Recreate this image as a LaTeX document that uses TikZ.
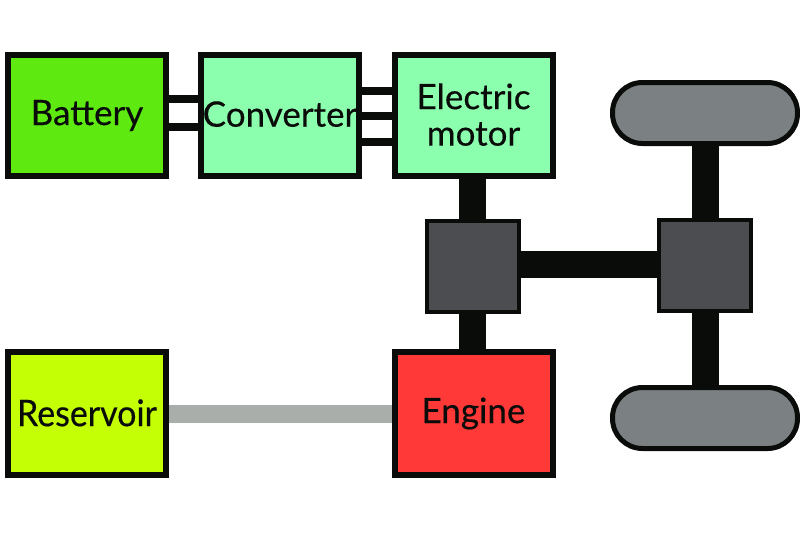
\documentclass[tikz,border=0pt]{standalone}
\usepackage{fontspec}
\setmainfont[FakeBold=0.4]{Lato}
\definecolor{ink}{HTML}{0A0C0A}
\definecolor{batt}{HTML}{5EEA10}
\definecolor{mint}{HTML}{8CFFAE}
\definecolor{res}{HTML}{C4FF05}
\definecolor{eng}{HTML}{FF3838}
\definecolor{gear}{HTML}{4B4D50}
\definecolor{whl}{HTML}{7B8082}
\definecolor{fuel}{HTML}{A9AEAB}
\tikzset{
  x=1pt,y=-1pt,
  unitbox/.style={draw=ink,line width=6pt,minimum width=158pt,minimum height=121pt,inner sep=0pt,text=ink,font=\fontsize{35}{36}\selectfont,align=center},
  gearbox/.style={draw=ink,fill=gear,line width=4pt,minimum width=92pt,minimum height=91pt,inner sep=0pt},
  wheelshape/.style={draw=ink,fill=whl,line width=5pt,minimum width=185pt,minimum height=61pt,rounded corners=30pt,inner sep=0pt},
  thin/.style={draw=ink,line width=8pt},
  shaft/.style={draw=ink,line width=27pt},
  fuelline/.style={draw=fuel,line width=18pt}
}
\begin{document}
\begin{tikzpicture}
\useasboundingbox (0,0) rectangle (800,533);
\node[unitbox,fill=batt] (bat) at (87,115.5) {\raisebox{1.5pt}{Battery}};
\node[unitbox,fill=mint] (conv) at (280,115.5) {\raisebox{3pt}{Converter}};
\node[unitbox,fill=mint] (mot) at (473.5,115.5) {\raisebox{2.5pt}{Electric}\\\raisebox{2pt}{motor}};
\node[unitbox,fill=res,minimum height=123pt] (resv) at (87,413.5) {\raisebox{1.5pt}{\scalebox{0.97}[1.05]{Reservoir}}};
\node[unitbox,fill=eng,minimum height=123pt] (eng) at (473.5,413.5) {Engine};
\node[gearbox] (g1) at (473,266.5) {};
\node[gearbox] (g2) at (705,265.5) {};
\node[wheelshape] (w1) at (705,113) {};
\node[wheelshape] (w2) at (705,418) {};
\draw[thin] ([yshift=16.5pt]bat.east) -- ([yshift=16.5pt]conv.west);
\draw[thin] ([yshift=-11.5pt]bat.east) -- ([yshift=-11.5pt]conv.west);
\draw[thin] ([yshift=24.5pt]conv.east) -- ([yshift=24.5pt]mot.west);
\draw[thin] (conv.east) -- (mot.west);
\draw[thin] ([yshift=-26.5pt]conv.east) -- ([yshift=-26.5pt]mot.west);
\draw[shaft] ([xshift=-1pt]mot.south) -- ([xshift=-.5pt]g1.north);
\draw[shaft] ([xshift=-.5pt]g1.south) -- ([xshift=-1pt]eng.north);
\draw[shaft] ([yshift=2pt]g1.east) -- ([yshift=1pt]g2.west);
\draw[shaft] (w1.south) -- (g2.north);
\draw[shaft] (g2.south) -- (w2.north);
\draw[fuelline] (resv.east) -- (eng.west);
\end{tikzpicture}
\end{document}
